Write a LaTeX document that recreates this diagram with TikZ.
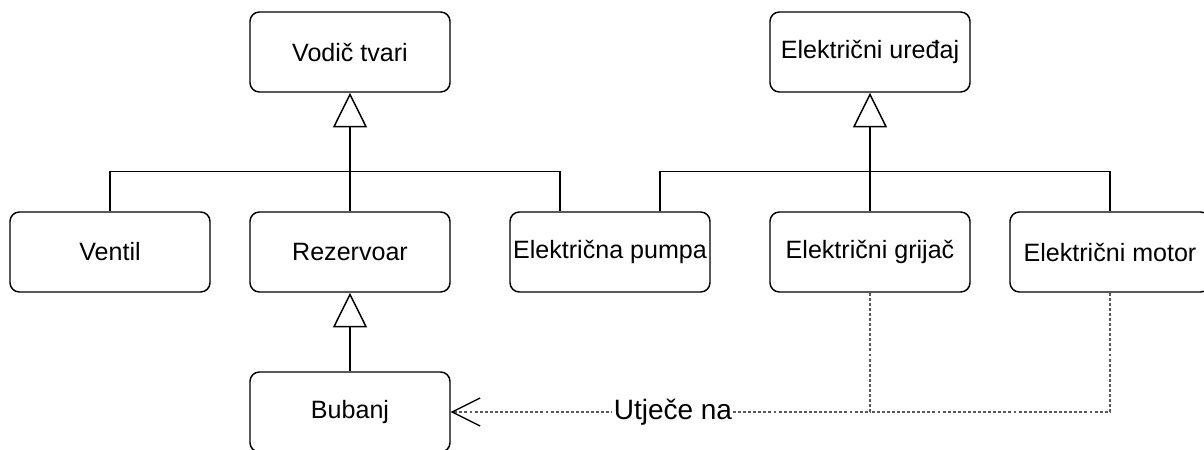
\documentclass[tikz,border=0pt]{standalone}
\usepackage{fontspec}
\setmainfont{Liberation Sans}
\usetikzlibrary{arrows.meta}

\begin{document}
\begin{tikzpicture}[x=0.75pt,y=-0.75pt,
  klasa/.style={draw,line width=1.1pt,rounded corners=7pt,minimum width=150pt,minimum height=60pt,inner sep=0pt,font=\fontsize{18.8}{22}\selectfont},
  veza/.style={line width=1.1pt},
  nasljedje/.style={veza,-{Triangle[open,length=26pt,width=25.5pt]}},
  utjece/.style={line width=0.8pt,black!65,dash pattern=on 2.2pt off 1.6pt,-{Straight Barb[length=21pt,width=21pt,line width=1pt,black]}}]

\useasboundingbox (0,0) rectangle (1204,450);

\node[klasa] (vodic) at (350,52) {Vodič tvari};
\node[klasa] (uredaj) at (870,52) {Električni uređaj};

\node[klasa] (ventil) at (110,252) {Ventil};
\node[klasa] (rezervoar) at (350,252) {Rezervoar};
\node[klasa] (pumpa) at (610,252) {Električna pumpa};
\node[klasa] (grijac) at (870,252) {Električni grijač};
\node[klasa] (motor) at (1110,252) {Električni motor};

\node[klasa] (bubanj) at (350,412) {Bubanj};

% nasljedjivanje
\draw[nasljedje] (rezervoar.north) -- (vodic.south);
\draw[veza] (ventil.north) -- ++(0,-40) -| ([xshift=-37.5pt]pumpa.north);
\draw[nasljedje] (grijac.north) -- (uredaj.south);
\draw[veza] ([xshift=37.5pt]pumpa.north) -- ++(0,-40) -| (motor.north);
\draw[nasljedje] (bubanj.north) -- (rezervoar.south);

% utjecaj
\draw[utjece] (grijac.south) |- node[pos=0.735,fill=white,inner sep=1pt,text=black,font=\fontsize{21}{24}\selectfont] (natpis) {Utječe na} (bubanj.east);
\draw[utjece,-] (motor.south) |- (grijac.south |- bubanj.east);

\end{tikzpicture}
\end{document}
